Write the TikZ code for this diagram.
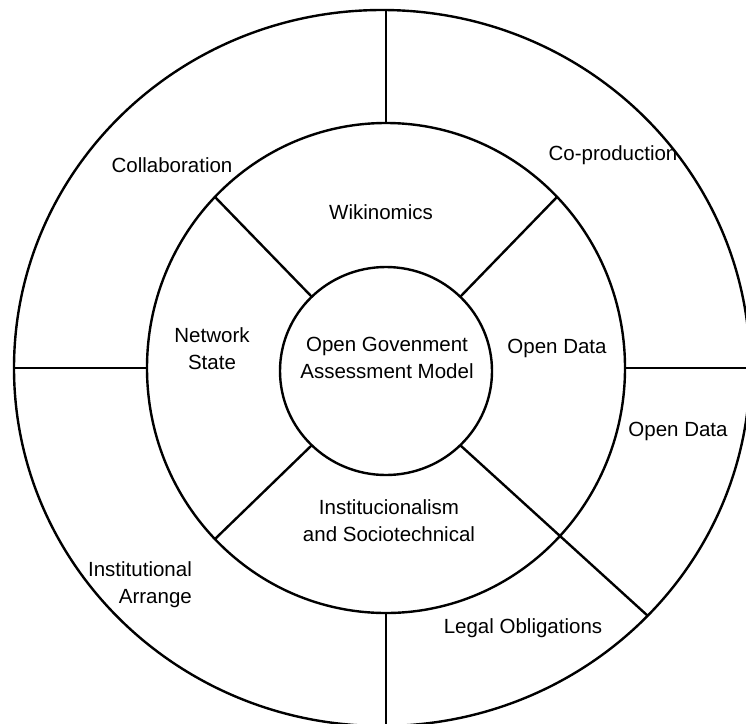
\documentclass[tikz,border=0pt]{standalone}
\usepackage{fontspec}
\setmainfont{Liberation Sans}
\usetikzlibrary{shapes.geometric, positioning, calc}

\begin{document}
\begin{tikzpicture}[x=1pt, y=-1pt,
  ring/.style={draw, ellipse, line width=2.4pt, inner sep=0pt, outer sep=0pt},
  divider/.style={line width=2.4pt},
  lbl/.style={font=\fontsize{20.5}{27}\selectfont, align=center}]
\clip (0,0) rectangle (746,723);

% Rings
\node[ring, minimum width=736pt, minimum height=716pt] (outer) at (382,368) {};
\node[ring, minimum width=478pt, minimum height=490pt] (middle) at (386,368) {};
\node[ring, minimum width=212pt, minimum height=208pt] (inner) at (386,371) {};

% Outer dividers
\draw[divider] (middle.north) -- (middle.north |- outer.north);
\draw[divider] (middle.south) -- (middle.south |- outer.south);
\draw[divider] (middle.west -| outer.west) -- (middle.west);
\draw[divider] (middle.east) -- (middle.east -| outer.east);

% Inner dividers
\draw[divider] (inner.135) -- (middle.135);
\draw[divider] (inner.45) -- (middle.45);
\draw[divider] (inner.225) -- (middle.225);
\draw[divider] (inner.-45) -- (outer.-43);

% Labels
\node[lbl] (collab) at (172,165) {Collaboration};
\node[lbl] (coprod) at (613,155) {Co-production};
\node[lbl] (wiki) at (381,212) {Wikinomics};
\node[lbl] (netstate) at (212,349) {Network\\State};
\node[lbl] (core) at (387,358) {Open Govenment\\Assessment Model};
\node[lbl] (opendata) at (557,348) {Open Data};
\node[lbl] (opendataout) at (678,431) {Open Data};
\node[lbl] (instsoc) at (389,521) {Institucionalism\\and Sociotechnical};
\node[lbl, align=right] (instarr) at (140,585) {Institutional\\Arrange};
\node[lbl] (legal) at (523,628) {Legal Obligations};
\end{tikzpicture}
\end{document}
